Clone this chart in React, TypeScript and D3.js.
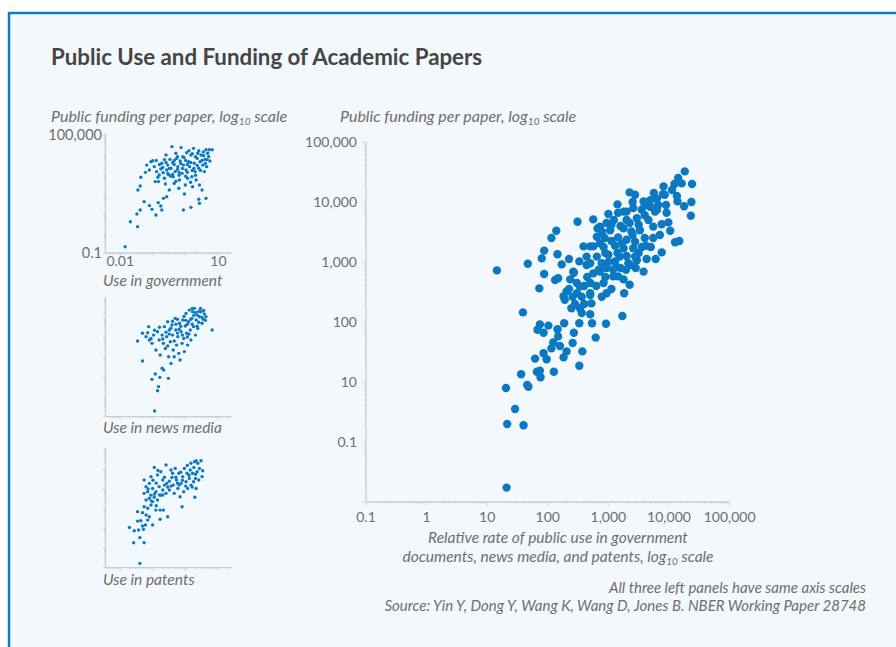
import React from 'react';
import * as d3 from 'd3';

// All values are log10 of the real quantity (both axes of the chart are log10 scales)

// Main panel: [log10 relative rate of public use, log10 public funding per paper]
const mainPoints: [number, number][] = [
  [1.16, 2.86], [1.67, 2.97], [1.90, 3.06], [1.94, 3.19], [2.06, 3.40], [2.14, 3.52], [2.49, 3.67], [2.75, 3.71], [2.16, 3.13], [1.94, 2.80],
  [1.86, 2.56], [2.23, 2.96], [2.35, 3.05], [2.43, 2.82], [2.52, 3.01], [2.12, 2.70], [2.17, 2.73], [2.59, 3.26], [2.70, 2.98], [2.75, 2.81],
  [2.82, 3.56], [2.81, 3.42], [2.31, 2.51], [2.48, 2.48], [2.70, 2.48], [1.59, 2.16], [2.37, 2.71], [2.42, 2.84], [2.26, 2.43], [2.41, 2.42],
  [2.48, 2.65], [2.53, 2.59], [2.56, 2.42], [2.65, 2.75], [2.70, 2.45], [2.53, 2.23], [2.39, 2.23], [2.56, 2.15], [2.52, 1.98], [2.70, 2.13],
  [2.73, 1.98], [2.43, 1.82], [2.27, 1.98], [2.01, 1.94], [1.87, 1.96], [1.83, 1.87], [1.93, 1.82], [2.16, 1.88], [2.17, 1.76], [2.09, 1.66],
  [2.06, 1.56], [2.20, 1.60], [2.41, 1.65], [2.57, 1.51], [2.79, 1.74], [2.96, 1.97], [3.23, 2.10], [3.26, 2.48], [3.35, 2.62], [3.58, 2.84],
  [3.29, 2.87], [3.25, 2.71], [3.47, 3.03], [3.63, 3.05], [3.78, 3.05], [3.88, 3.16], [3.62, 3.27], [3.74, 3.40], [4.10, 3.33], [4.17, 3.35],
  [4.02, 3.52], [4.36, 3.77], [4.37, 4.00], [4.25, 3.93], [3.91, 4.26], [4.09, 4.30], [4.15, 4.40], [4.26, 4.51], [4.38, 4.30], [4.21, 4.31],
  [4.13, 4.10], [3.90, 4.13], [3.75, 4.15], [3.35, 4.16], [3.44, 4.12], [3.15, 3.96], [2.97, 3.65],
  [3.58, 4.01], [3.69, 4.03], [3.82, 3.95], [3.93, 4.12], [4.14, 4.01], [3.41, 3.90], [3.25, 3.84], [3.16, 3.82], [3.55, 3.87], [3.77, 3.84], [3.96, 3.82],
  [3.09, 3.70], [3.30, 3.70], [3.47, 3.73], [3.66, 3.70], [3.88, 3.63], [3.99, 3.66],
  [2.86, 3.59], [3.03, 3.53], [3.25, 3.56], [3.38, 3.51], [3.52, 3.53], [3.74, 3.59],
  [2.94, 3.40], [3.16, 3.41], [3.30, 3.37], [3.44, 3.34], [3.60, 3.40],
  [2.75, 3.26], [2.92, 3.25], [3.11, 3.27], [3.25, 3.23], [3.41, 3.23],
  [2.81, 3.09], [3.00, 3.12], [3.19, 3.09], [3.44, 3.09],
  [2.89, 2.98], [3.11, 3.01], [3.33, 2.98],
  [2.64, 2.95], [2.86, 2.84], [2.92, 2.65], [2.70, 2.65], [2.89, 2.42], [2.97, 2.48], [2.72, 2.31],
  [2.31, 1.51], [1.93, 1.48], [1.98, 1.38], [2.26, 1.41], [2.52, 1.27], [2.10, 1.17], [1.87, 1.19],
  [3.16, 2.76], [3.08, 2.87], [2.97, 2.90], [3.36, 2.95],
  [1.79, 1.39], [1.82, 1.17], [1.56, 1.13], [1.88, 1.08], [1.66, 0.95], [1.68, 0.92], [1.31, 0.90], [1.46, 0.55], [1.33, 0.30], [1.60, 0.28], [1.32, -0.76],
  [2.28, 2.37],
  [3.30, 3.84], [3.69, 3.92], [3.80, 3.87], [3.05, 3.62], [3.22, 3.31], [2.86, 3.31], [2.70, 3.26], [2.64, 3.09], [3.08, 2.76], [2.84, 2.87], [3.13, 2.92],
  [3.00, 3.80], [3.20, 3.60], [3.35, 3.65], [3.50, 3.62], [3.60, 3.78], [3.40, 3.45], [3.55, 3.25], [3.05, 3.35], [2.95, 3.15], [3.15, 3.15],
  [3.30, 3.10], [3.50, 3.15], [3.20, 2.90], [3.45, 2.90], [3.00, 3.00], [2.95, 2.75], [3.05, 2.55], [2.80, 2.60], [2.60, 2.60], [2.60, 2.30],
  [2.45, 2.30], [2.35, 2.55], [3.70, 3.25], [3.85, 3.45], [3.95, 3.95], [4.05, 4.20], [3.80, 4.05], [3.60, 3.95], [2.90, 3.50], [3.40, 4.00],
];

// Left panels: [log10 use, log10 funding]
const governmentPoints: [number, number][] = [
  [-1.85, -0.68], [-1.69, 0.59], [-1.49, 0.98], [-1.47, 0.34], [-1.39, 1.19], [-1.27, 1.61], [-1.11, 1.41], [-1.03, 1.22], [-0.91, 0.93], [-0.84, 1.56],
  [-0.76, 1.39], [-0.73, 1.19], [-0.68, 1.78], [-0.58, 1.86], [-1.46, 2.20], [-1.39, 2.41], [-1.37, 2.85], [-1.23, 3.10], [-1.19, 3.47], [-1.11, 3.22],
  [-1.06, 3.64], [-1.01, 3.69], [-0.96, 3.39], [-0.93, 2.63], [-0.89, 3.14], [-0.83, 2.63], [-0.81, 2.97], [-0.76, 3.27], [-0.73, 3.56], [-0.69, 3.08],
  [-0.65, 2.80], [-0.62, 2.51], [-0.60, 3.98], [-0.58, 3.22], [-0.55, 3.47], [-0.52, 2.97], [-0.50, 2.20], [-0.48, 3.76], [-0.45, 3.31], [-0.42, 4.41],
  [-0.40, 3.59], [-0.38, 2.88], [-0.35, 2.54], [-0.32, 3.14], [-0.30, 4.07], [-0.28, 3.81], [-0.24, 3.39], [-0.21, 2.29], [-0.19, 2.71], [-0.17, 3.68],
  [-0.14, 4.36], [-0.11, 3.05], [-0.09, 3.90], [-0.07, 3.47], [-0.04, 2.00], [-0.01, 2.46], [0.01, 3.22], [0.03, 4.10], [0.06, 2.80], [0.09, 3.64],
  [-0.07, 1.19], [0.16, 1.32], [0.12, 3.39], [0.16, 3.98], [0.19, 2.88], [0.21, 2.37], [0.24, 4.32], [0.26, 3.56], [0.29, 3.14], [0.32, 2.71],
  [0.35, 3.81], [0.37, 4.07], [0.40, 3.31], [0.42, 2.46], [0.44, 3.64], [0.47, 3.98], [0.50, 2.20], [0.52, 3.47], [0.54, 4.14], [0.57, 3.14],
  [0.59, 3.76], [0.62, 4.25], [0.64, 3.39], [0.67, 4.07], [0.62, 1.78], [0.72, 4.25], [0.74, 3.68], [0.81, 4.25], [0.40, 1.73], [0.42, 1.53],
  [-0.50, 3.30], [-0.35, 3.50], [-0.20, 3.10], [-0.10, 3.30], [0.05, 3.50], [0.20, 3.20], [-0.60, 3.60], [-0.25, 3.90], [0.30, 3.90], [0.50, 3.70],
  [-0.45, 2.90], [0.00, 2.90], [0.15, 2.60], [-0.30, 2.65], [0.35, 3.45], [0.60, 3.55], [0.70, 3.90], [-0.80, 3.50], [-0.90, 3.70], [0.10, 4.20],
  [-0.70, 3.35], [-0.55, 3.05], [-0.40, 3.00], [-0.25, 3.25], [-0.15, 3.55], [0.00, 3.70], [0.15, 3.60], [0.25, 3.30], [0.45, 3.20], [0.55, 3.95],
  [-0.85, 2.85], [-0.65, 3.75], [-0.35, 3.70], [-0.05, 3.85], [0.20, 4.05], [0.40, 4.20], [0.65, 3.75], [-0.20, 2.95], [0.05, 3.10], [0.30, 2.95],
];

const newsPoints: [number, number][] = [
  [-0.95, -0.71], [-0.86, 0.32], [-0.83, 0.53], [-1.03, 0.90], [-0.79, 1.00], [-0.53, 0.95], [-0.93, 1.17], [-0.67, 1.37], [-0.72, 1.46], [-1.32, 1.83],
  [-1.47, 2.85], [-1.32, 3.24], [-1.13, 3.58], [-1.21, 3.07], [-1.11, 2.90], [-1.03, 2.73], [-0.98, 3.15], [-0.91, 2.39], [-0.86, 3.32], [-0.81, 2.90],
  [-0.78, 2.14], [-0.72, 3.15], [-0.68, 2.73], [-0.65, 3.58], [-0.62, 2.47], [-0.58, 3.07], [-0.55, 3.83], [-0.52, 2.05], [-0.50, 3.41], [-0.47, 2.81],
  [-0.45, 1.71], [-0.42, 3.66], [-0.40, 3.15], [-0.38, 2.39], [-0.35, 2.05], [-0.32, 4.00], [-0.30, 3.41], [-0.28, 2.64], [-0.24, 3.07], [-0.21, 2.22],
  [-0.19, 3.75], [-0.17, 1.88], [-0.14, 3.32], [-0.11, 2.73], [-0.09, 3.92], [-0.06, 2.98], [-0.04, 2.31], [-0.01, 3.61], [0.01, 4.25], [0.03, 3.24],
  [0.06, 2.64], [0.09, 3.83], [0.11, 4.42], [0.14, 3.41], [0.16, 2.90], [0.19, 4.00], [0.21, 4.34], [0.24, 3.58], [0.27, 4.51], [0.30, 3.15],
  [0.32, 3.92], [0.35, 4.17], [0.37, 3.49], [0.42, 4.08], [0.47, 4.34], [0.50, 3.75], [0.54, 3.95], [0.57, 4.22], [0.62, 4.08], [0.81, 3.41],
  [-1.06, 2.98], [-1.16, 3.27], [-0.60, 3.30], [-0.45, 3.50], [-0.30, 3.70], [-0.15, 3.60], [0.00, 3.90], [0.20, 3.70], [0.40, 3.80], [-0.70, 2.95],
  [-0.25, 3.25], [0.10, 3.20], [0.30, 4.30], [0.45, 4.50], [-0.05, 4.10], [-0.55, 2.60], [-0.35, 2.85], [0.05, 3.05],
  [-0.95, 3.40], [-0.80, 3.55], [-0.40, 3.85], [-0.20, 3.45], [0.05, 3.70], [0.25, 4.15], [0.40, 4.35], [0.55, 4.40], [0.15, 3.95], [-0.10, 3.15],
  [-0.50, 3.20], [0.35, 3.60], [0.60, 3.90], [-0.25, 3.95], [0.20, 4.50], [0.50, 4.05],
];

const patentPoints: [number, number][] = [
  [-1.40, -0.78], [-1.59, 0.27], [-1.40, 0.53], [-1.27, 0.27], [-1.72, 1.05], [-1.57, 0.88], [-1.44, 0.92], [-1.29, 0.95], [-1.47, 1.37], [-1.37, 1.39],
  [-1.32, 1.12], [-1.23, 1.17], [-1.16, 1.42], [-1.11, 1.59], [-1.01, 1.17], [-0.78, 1.46], [-0.55, 1.59], [-0.91, 1.93], [-0.78, 1.93], [-0.68, 1.93],
  [-1.47, 1.85], [-1.32, 1.80], [-1.21, 1.68], [-1.27, 2.10], [-1.16, 2.02], [-1.06, 2.19], [-1.21, 2.44], [-1.11, 2.53], [-1.01, 2.36], [-1.27, 2.78],
  [-1.16, 2.86], [-1.06, 2.69], [-0.96, 2.58], [-0.86, 2.44], [-0.76, 2.69], [-1.21, 3.12], [-1.11, 3.29], [-1.01, 3.03], [-0.91, 2.86], [-0.81, 3.12],
  [-0.70, 2.95], [-0.60, 2.78], [-1.27, 3.46], [-1.06, 3.63], [-0.96, 4.10], [-0.86, 3.71], [-0.76, 3.88], [-0.70, 3.46], [-0.60, 4.22], [-0.58, 3.29],
  [-0.50, 2.95], [-0.45, 3.97], [-0.42, 3.59], [-0.38, 3.20], [-0.35, 2.78], [-0.32, 4.05], [-0.28, 3.46], [-0.24, 3.03], [-0.21, 3.80], [-0.17, 2.61],
  [-0.14, 3.29], [-0.11, 2.10], [-0.09, 3.63], [-0.06, 2.86], [-0.04, 4.05], [0.01, 3.37], [0.04, 3.80], [0.06, 3.03], [0.11, 3.54], [0.14, 3.97],
  [0.16, 3.20], [0.21, 3.80], [0.24, 3.37], [0.28, 2.58], [0.30, 3.54], [0.32, 3.03], [0.35, 3.88], [0.37, 4.31], [0.40, 3.46], [0.42, 4.05],
  [0.16, 4.31], [0.27, 4.39], [0.32, 4.44], [0.47, 4.44], [0.52, 3.93], [0.50, 3.63],
  [-0.90, 3.30], [-0.65, 3.60], [-0.50, 3.40], [-0.30, 3.60], [-0.10, 3.45], [0.10, 3.70], [-0.80, 2.70], [-0.55, 3.10], [-0.20, 3.20], [0.20, 3.10],
  [-1.15, 3.00], [-1.00, 3.45], [-0.85, 3.95], [-0.65, 3.20], [-0.40, 3.80], [-0.15, 3.85], [0.05, 4.20], [0.30, 3.75], [-0.95, 2.75], [-0.70, 2.70],
  [-0.45, 3.15], [-0.25, 3.30], [0.00, 3.15], [0.25, 4.10], [-1.05, 2.40], [-0.90, 2.15],
];

const mainXTicks = [-1, 0, 1, 2, 3, 4, 5];
const mainXTickLabels = ['0.1', '1', '10', '100', '1,000', '10,000', '100,000'];
const mainYTicks = [0, 1, 2, 3, 4, 5];
const mainYTickLabels = ['0.1', '10', '100', '1,000', '10,000', '100,000'];
const smallXTicks = [-2, 1];
const smallXTickLabels = ['0.01', '10'];
const smallYTicks = [-1, 5];
const smallYTickLabels = ['0.1', '100,000'];

const panels = [
  { label: 'Use in government', points: governmentPoints, bottom: 253, labelY: 285.5, showTicks: true },
  { label: 'Use in news media', points: newsPoints, bottom: 416.7, labelY: 433, showTicks: false },
  { label: 'Use in patents', points: patentPoints, bottom: 567.7, labelY: 585, showTicks: false },
];

const DOT = '#0b79c2';
const AXIS = '#c8cdd2';
const TEXT = '#6e6e6e';
const FONT = 'Lato, "Open Sans", sans-serif';

// log ticks: every integer decade plus 2..9 in between
const logTicks = (lo: number, hi: number) => {
  const out: { v: number; major: boolean }[] = [];
  for (let d = Math.floor(lo); d <= Math.ceil(hi); d++) {
    for (let k = 1; k <= 9; k++) {
      const v = d + Math.log10(k);
      if (v >= lo - 1e-9 && v <= hi + 1e-9) out.push({ v, major: k === 1 });
    }
  }
  return out;
};

const Log10Title = ({ x, y, pre, anchor = 'start', size = 16 }: { x: number; y: number; pre: string; anchor?: string; size?: number }) => (
  <text x={x} y={y} textAnchor={anchor} fontStyle="italic" fontSize={size} fill={TEXT}>
    {pre}log<tspan fontSize={10} dy={3}>10</tspan><tspan dy={-3}> scale</tspan>
  </text>
);

const App: React.FC = () => {
  // main scatter scales
  const x = d3.scaleLinear().domain([-1, 5]).range([366, 729.6]);
  const y = d3.scaleLinear().domain([-1, 5]).range([502, 142]);

  // small panels share x scale; y depends on panel bottom
  const sx = d3.scaleLinear().domain([-2.45, 1.4]).range([105.5, 231.5]);

  return (
    <svg width={896} height={647} style={{ position: 'absolute', left: 0, top: 0 }} fontFamily={FONT}>
      <rect width={896} height={647} fill="#ffffff" />
      <rect x={8} y={12} width={900} height={660} fill="#f3f8fc" />
      <line x1={8} x2={896} y1={13} y2={13} stroke="#0c7bc4" strokeWidth={2.5} />
      <line x1={9} x2={9} y1={12} y2={647} stroke="#0c7bc4" strokeWidth={2.5} />

      <text x={51} y={65} fontSize={22.3} fontWeight="bold" fill="#454545">
        Public Use and Funding of Academic Papers
      </text>

      {/* left panels */}
      <Log10Title x={51} y={122} pre="Public funding per paper, " />
      {panels.map((p) => {
        const sy = d3.scaleLinear().domain([-1, 5]).range([p.bottom, p.bottom - 118]);
        return (
          <g key={p.label}>
            {logTicks(-1, 5).map((t, i) => (
              <line key={'y' + i} x1={105.5} x2={105.5 - (t.major ? 3 : 1.5)} y1={sy(t.v)} y2={sy(t.v)} stroke={AXIS} strokeWidth={0.8} />
            ))}
            {logTicks(-2.45, 1.4).map((t, i) => (
              <line key={'x' + i} x1={sx(t.v)} x2={sx(t.v)} y1={p.bottom} y2={p.bottom + (t.major ? 3 : 1.5)} stroke={AXIS} strokeWidth={0.8} />
            ))}
            <line x1={105.5} x2={105.5} y1={p.bottom - 120} y2={p.bottom} stroke={AXIS} strokeWidth={1.3} />
            <line x1={105.5} x2={231.5} y1={p.bottom} y2={p.bottom} stroke={AXIS} strokeWidth={1.3} />
            {p.showTicks && smallYTicks.map((t, i) => (
              <text key={'yl' + i} x={102} y={sy(t) + 5} textAnchor="end" fontSize={14.5} fill={TEXT}>{smallYTickLabels[i]}</text>
            ))}
            {p.showTicks && smallXTicks.map((t, i) => (
              <text key={'xl' + i} x={sx(t)} y={p.bottom + 13} textAnchor="middle" fontSize={14} fill={TEXT}>{smallXTickLabels[i]}</text>
            ))}
            {p.points.map((d, i) => (
              <circle key={i} cx={sx(d[0])} cy={sy(d[1])} r={1.7} fill={DOT} />
            ))}
            <text x={103} y={p.labelY} fontStyle="italic" fontSize={15.5} fill={TEXT}>{p.label}</text>
          </g>
        );
      })}

      {/* main panel */}
      <Log10Title x={340} y={122} pre="Public funding per paper, " />
      {logTicks(-1, 5).map((t, i) => (
        <line key={'my' + i} x1={366} x2={366 - (t.major ? 4 : 2)} y1={y(t.v)} y2={y(t.v)} stroke={AXIS} strokeWidth={0.8} />
      ))}
      {logTicks(-1, 5).map((t, i) => (
        <line key={'mx' + i} x1={x(t.v)} x2={x(t.v)} y1={502} y2={502 + (t.major ? 4 : 2)} stroke={AXIS} strokeWidth={0.8} />
      ))}
      <line x1={366} x2={366} y1={142} y2={502} stroke={AXIS} strokeWidth={1.3} />
      <line x1={366} x2={729.6} y1={502} y2={502} stroke={AXIS} strokeWidth={1.3} />
      {mainYTicks.map((t, i) => (
        <text key={'myl' + i} x={357} y={y(t) + 5} textAnchor="end" fontSize={14} fill={TEXT}>{mainYTickLabels[i]}</text>
      ))}
      {mainXTicks.map((t, i) => (
        <text key={'mxl' + i} x={x(t)} y={522} textAnchor="middle" fontSize={14} fill={TEXT}>{mainXTickLabels[i]}</text>
      ))}
      {mainPoints.map((d, i) => (
        <circle key={i} cx={x(d[0])} cy={y(d[1])} r={4.2} fill={DOT} />
      ))}
      <text x={558} y={543} textAnchor="middle" fontStyle="italic" fontSize={15.5} fill={TEXT}>
        Relative rate of public use in government
      </text>
      <Log10Title x={558} y={562} anchor="middle" size={15.5} pre="documents, news media, and patents, " />

      <text x={866} y={592.5} textAnchor="end" fontStyle="italic" fontSize={15} fill={TEXT}>
        All three left panels have same axis scales
      </text>
      <text x={866} y={611} textAnchor="end" fontStyle="italic" fontSize={15} fill={TEXT}>
        Source: Yin Y, Dong Y, Wang K, Wang D, Jones B. NBER Working Paper 28748
      </text>
    </svg>
  );
};

export default App;
